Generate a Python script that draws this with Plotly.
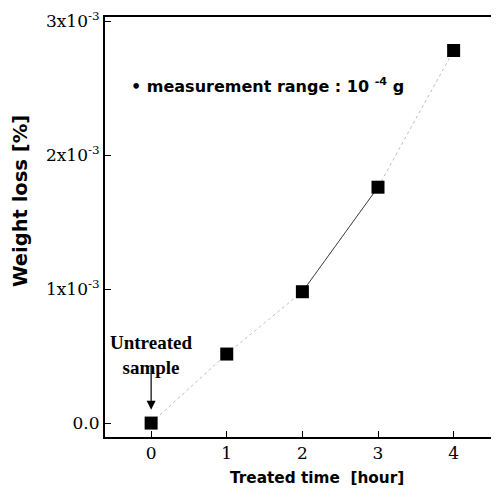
"""
Weight loss vs treated time
"""
import plotly.graph_objects as go

# data
treated_time = [0, 1, 2, 3, 4]
weight_loss = [0.0, 0.515e-3, 0.98e-3, 1.76e-3, 2.78e-3]

y_tick_vals = [0, 1e-3, 2e-3, 3e-3]
y_tick_text = ["0.0", "1x10<sup>-3</sup>", "2x10<sup>-3</sup>", "3x10<sup>-3</sup>"]
x_tick_vals = [0, 1, 2, 3, 4]

SERIF = "DejaVu Serif"
SANS = "DejaVu Sans"

fig = go.Figure()

# faint dotted trend through all points
fig.add_trace(go.Scatter(
    x=treated_time,
    y=weight_loss,
    mode='lines',
    line={'color': '#c0c0c0', 'width': 1, 'dash': 'dot'},
    hoverinfo='skip'
))

# solid segment between 2 and 3 hours
fig.add_trace(go.Scatter(
    x=treated_time[2:4],
    y=weight_loss[2:4],
    mode='lines',
    line={'color': '#444444', 'width': 1},
    hoverinfo='skip'
))

fig.add_trace(go.Scatter(
    x=treated_time,
    y=weight_loss,
    mode='markers',
    marker={'symbol': 'square', 'size': 13, 'color': 'black'}
))

# arrow pointing at the untreated sample
fig.add_annotation(
    x=0, y=0.1e-3, ax=0, ay=0.43e-3,
    xref='x', yref='y', axref='x', ayref='y',
    text="", showarrow=True,
    arrowhead=2, arrowsize=1.5, arrowwidth=1.2, arrowcolor='black'
)
fig.add_annotation(
    x=0, y=0.507e-3, xref='x', yref='y',
    text="<b>Untreated<br>sample</b>", showarrow=False,
    yanchor='middle',
    font={'family': "Liberation Serif", 'size': 19, 'color': 'black'}
)
fig.add_annotation(
    x=-0.29, y=2.52e-3, xref='x', yref='y',
    xanchor='left', yanchor='middle',
    text="<b>• measurement range : 10 <sup>-4</sup> g</b>", showarrow=False,
    font={'family': SANS, 'size': 16, 'color': 'black'}
)

# axis titles placed as annotations
fig.add_annotation(
    x=-0.213, y=0.562, xref='paper', yref='paper',
    xanchor='center', yanchor='middle', textangle=-90,
    text="<b>Weight loss [%]</b>", showarrow=False,
    font={'family': SANS, 'size': 19.5, 'color': 'black'}
)
fig.add_annotation(
    x=0.538, y=-0.098, xref='paper', yref='paper',
    xanchor='center', yanchor='middle',
    text="<b>Treated time  [hour]</b>", showarrow=False,
    font={'family': SANS, 'size': 15.3, 'color': 'black'}
)

# page body has an 8px margin, so the figure is a bit smaller and shifted
fig.update_layout(
    width=491,
    height=491,
    showlegend=False,
    plot_bgcolor='white',
    paper_bgcolor='white',
    margin={'l': 97, 'r': 0, 't': 9, 'b': 62},
    xaxis={
        'range': [-0.61, 4.6],
        'automargin': False,
        'tickvals': x_tick_vals,
        'ticks': 'inside',
        'ticklen': 6,
        'tickcolor': 'black',
        'showgrid': False,
        'zeroline': False,
        'showline': True,
        'linecolor': 'black',
        'linewidth': 2,
        'mirror': True,
        'tickfont': {'family': SERIF, 'size': 17, 'color': 'black'},
    },
    yaxis={
        'range': [-0.104e-3, 3.03e-3],
        'automargin': False,
        'tickvals': y_tick_vals,
        'ticktext': y_tick_text,
        'ticks': 'inside',
        'ticklen': 6,
        'tickcolor': 'black',
        'showgrid': False,
        'zeroline': False,
        'showline': True,
        'linecolor': 'black',
        'linewidth': 2,
        'tickfont': {'family': SERIF, 'size': 17, 'color': 'black'},
    },
)

fig.write_html("out.html")
